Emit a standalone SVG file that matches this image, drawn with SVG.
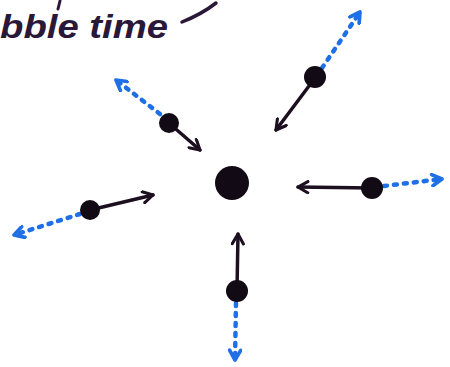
<svg xmlns="http://www.w3.org/2000/svg" width="450" height="367" viewBox="0 0 450 367">
<defs>
<marker id="ah" viewBox="0 0 10 10" refX="8.5" refY="5" markerWidth="14" markerHeight="14" orient="auto" markerUnits="userSpaceOnUse">
<path d="M1.5,1 L8.5,5 L1.5,9" fill="none" stroke="#1c1020" stroke-width="2.2" stroke-linecap="round" stroke-linejoin="round"/>
</marker>
<marker id="bh" viewBox="0 0 10 10" refX="8.5" refY="5" markerWidth="14" markerHeight="14" orient="auto" markerUnits="userSpaceOnUse">
<path d="M1.5,1 L8.5,5 L1.5,9" fill="none" stroke="#1f6fe6" stroke-width="2.6" stroke-linecap="round" stroke-linejoin="round"/>
</marker>
<style>
.dot{fill:#120a14}
.move{stroke:#1c1020;stroke-width:3.5;fill:none;stroke-linecap:round}
.drift{stroke:#1f6fe6;stroke-width:4.5;fill:none;stroke-dasharray:3 7;stroke-linecap:round}
.hand{font-family:"Liberation Sans",sans-serif;font-style:italic;font-weight:bold;fill:#2a1838}
</style>
</defs>
<rect width="450" height="367" fill="#ffffff"/>
<g id="label">
<text class="hand" x="0" y="38" font-size="34" textLength="168" lengthAdjust="spacingAndGlyphs">bble time</text>
<path d="M182,22 Q202,14 216,3" fill="none" stroke="#2a1838" stroke-width="3.5" stroke-linecap="round"/>
<path d="M60,1 L58,9" fill="none" stroke="#2a1838" stroke-width="3" stroke-linecap="round"/>
</g>
<g id="connectors">
<line class="move" marker-end="url(#ah)" x1="315" y1="78" x2="276" y2="130"/>
<line class="drift" marker-end="url(#bh)" x1="322" y1="68" x2="360" y2="12"/>
<line class="move" marker-end="url(#ah)" x1="170" y1="124" x2="200" y2="150"/>
<line class="drift" marker-end="url(#bh)" x1="160" y1="114" x2="116" y2="80"/>
<line class="move" marker-end="url(#ah)" x1="372" y1="188" x2="298" y2="187"/>
<line class="drift" marker-end="url(#bh)" x1="384" y1="186" x2="442" y2="179"/>
<line class="move" marker-end="url(#ah)" x1="90" y1="210" x2="153" y2="195"/>
<line class="drift" marker-end="url(#bh)" x1="80" y1="214" x2="14" y2="235"/>
<line class="move" marker-end="url(#ah)" x1="237" y1="290" x2="238" y2="234"/>
<line class="drift" marker-end="url(#bh)" x1="236" y1="303" x2="235" y2="360"/>
</g>
<g id="center"><circle class="dot" cx="232" cy="183" r="17"/></g>
<g id="p-upper-right"><circle class="dot" cx="315" cy="77" r="11"/></g>
<g id="p-upper-left"><circle class="dot" cx="169" cy="123" r="10"/></g>
<g id="p-right"><circle class="dot" cx="372" cy="188" r="11"/></g>
<g id="p-left"><circle class="dot" cx="90" cy="210" r="10"/></g>
<g id="p-bottom"><circle class="dot" cx="237" cy="291" r="11"/></g>
</svg>
